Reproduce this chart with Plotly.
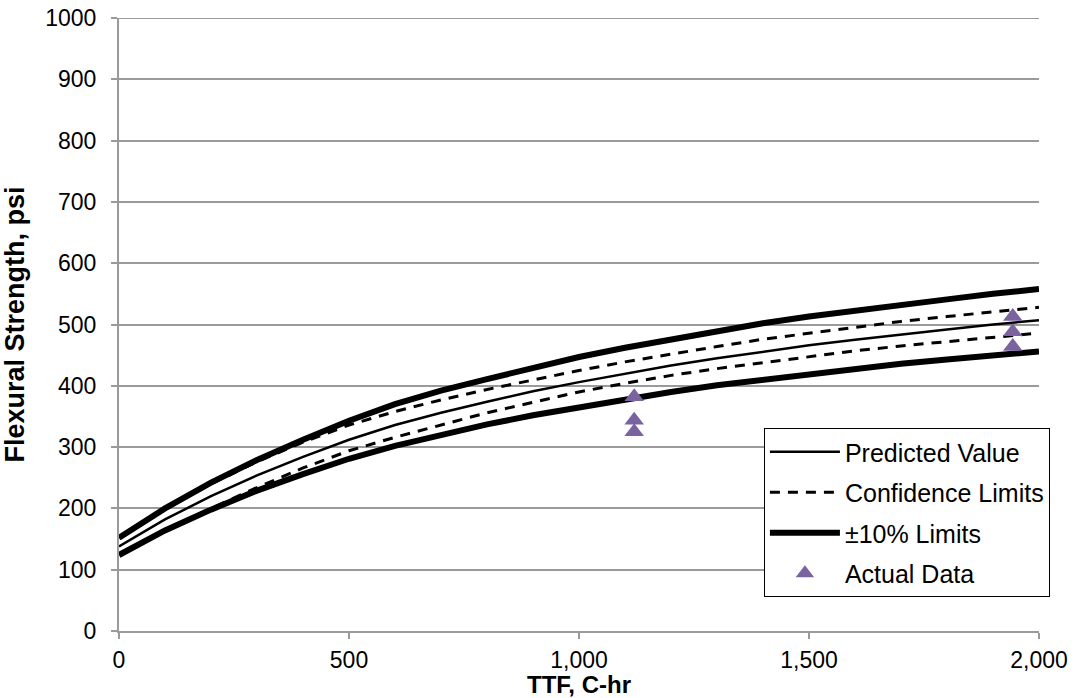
import plotly.graph_objects as go

ttf = [0, 100, 200, 300, 400, 500, 600, 700, 800, 900, 1000,
       1100, 1200, 1300, 1400, 1500, 1600, 1700, 1800, 1900, 2000]
predicted = [138, 182, 220, 254, 284, 312, 336, 356, 374, 391, 406,
             420, 433, 445, 456, 466, 475, 484, 492, 500, 507]
conf_upper = [152, 199, 240, 276, 308, 336, 358, 377, 394, 410, 425,
              439, 452, 464, 476, 486, 496, 505, 513, 521, 528]
conf_lower = [125, 165, 200, 234, 266, 294, 316, 336, 356, 373, 390,
              404, 417, 428, 438, 448, 457, 465, 472, 479, 486]
lim_upper = [152, 200, 242, 279, 312, 343, 370, 392, 411, 430, 447,
             462, 476, 490, 502, 513, 523, 532, 541, 550, 558]
lim_lower = [124, 164, 198, 229, 256, 281, 302, 320, 337, 352, 365,
             378, 390, 401, 410, 419, 428, 436, 443, 450, 456]
actual_x = [1120, 1120, 1120, 1943, 1943, 1943]
actual_y = [382, 344, 325, 513, 488, 464]
y_max = 1000

FONT = "Liberation Sans, Arial, sans-serif"
GRID = "#9a9a9a"

fig = go.Figure()
fig.add_trace(go.Scatter(x=ttf, y=predicted, mode="lines", name="Predicted Value",
                         line=dict(color="black", width=2.5), legendgroup="a"))
fig.add_trace(go.Scatter(x=ttf, y=conf_upper, mode="lines", name="Confidence Limits",
                         line=dict(color="black", width=3, dash="10px,8px"), legendgroup="b"))
fig.add_trace(go.Scatter(x=ttf, y=conf_lower, mode="lines", name="Confidence Limits",
                         line=dict(color="black", width=3, dash="10px,8px"), legendgroup="b",
                         showlegend=False))
fig.add_trace(go.Scatter(x=ttf, y=lim_upper, mode="lines", name="±10% Limits",
                         line=dict(color="black", width=6), legendgroup="c"))
fig.add_trace(go.Scatter(x=ttf, y=lim_lower, mode="lines", name="±10% Limits",
                         line=dict(color="black", width=6), legendgroup="c",
                         showlegend=False))
fig.add_trace(go.Scatter(x=actual_x, y=actual_y, mode="markers", name="Actual Data",
                         marker=dict(symbol="triangle-up", size=17, color="#7B63A0"),
                         legendgroup="d"))

# top gridline (plotly drops the gridline lying on the plot edge)
fig.add_hline(y=y_max, line=dict(color=GRID, width=2), layer="below")

fig.update_layout(
    width=1075, height=698,
    margin=dict(l=119, r=36, t=18, b=67, autoexpand=False),
    paper_bgcolor="white", plot_bgcolor="white",
    font=dict(family=FONT, size=23, color="black"),
    showlegend=True,
    legend=dict(x=0.701, y=0.331, xanchor="left", yanchor="top",
                bordercolor="black", borderwidth=1, bgcolor="white",
                font=dict(size=25), tracegroupgap=5, itemwidth=70,
                traceorder="grouped"),
    xaxis=dict(range=[0, 2000], dtick=500, tickformat=",", showgrid=False,
               showline=True, linecolor=GRID, linewidth=2,
               ticks="outside", ticklen=6, tickcolor=GRID, tickwidth=2,
               zeroline=False, automargin=False, ticklabelstandoff=1,
               ticklabeloverflow="allow",
               title=dict(text="<b>TTF, C-hr</b>", standoff=0, font=dict(size=24))),
    yaxis=dict(range=[0, y_max], dtick=100, showgrid=True, gridcolor=GRID,
               gridwidth=2, showline=True, linecolor=GRID, linewidth=2,
               ticks="outside", ticklen=6, tickcolor=GRID, tickwidth=2,
               zeroline=False, automargin=False, ticklabelstandoff=10,
               ticklabeloverflow="allow",
               title=dict(text="<b>Flexural Strength, psi</b>", standoff=27, font=dict(size=27))),
)

fig.write_html("out.html", config={"displayModeBar": False},
               post_script="document.body.style.margin='0';document.body.style.overflow='hidden';")
